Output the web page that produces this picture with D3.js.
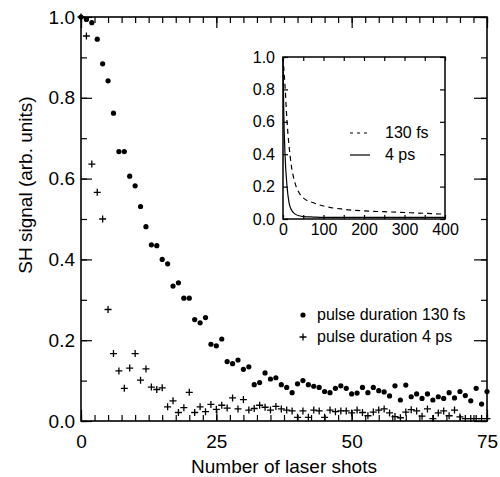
<!DOCTYPE html>
<html>
<head>
<meta charset="utf-8">
<script src="https://cdn.jsdelivr.net/npm/d3@7"></script>
<style>
  body { margin: 0; background: #fff; }
  text { font-family: 'Liberation Sans', Arial, Helvetica, sans-serif; fill: #000; }
  .axis .domain { display: none; }
  .axis line { stroke: #000; stroke-width: 1.2; }
</style>
</head>
<body>
<div id="chart"></div>
<script>
// shots 0..75
const shots = d3.range(0, 76)

// pulse duration 130 fs (dots)
const signal130fs = [
  1.0, 0.994, 0.986, 0.945, 0.884, 0.842, 0.762, 0.667, 0.667, 0.606,
  0.582, 0.531, 0.481, 0.436, 0.434, 0.4, 0.389, 0.334, 0.342, 0.304,
  0.304, 0.251, 0.243, 0.256, 0.19, 0.186, 0.203, 0.147, 0.142, 0.151,
  0.128, 0.134, 0.09, 0.095, 0.119, 0.104, 0.107, 0.09, 0.083, 0.07,
  0.092, 0.1, 0.09, 0.086, 0.083, 0.073, 0.07, 0.081, 0.087, 0.081,
  0.067, 0.069, 0.083, 0.07, 0.083, 0.075, 0.072, 0.062, 0.087, 0.052,
  0.089, 0.06, 0.067, 0.056, 0.067, 0.052, 0.06, 0.056, 0.07, 0.057,
  0.073, 0.063, 0.05, 0.081, 0.042, 0.073
]

// pulse duration 4 ps (crosses)
const signal4ps = [
  1.0, 0.953, 0.636, 0.566, 0.5, 0.276, 0.167, 0.124, 0.081, 0.131,
  0.167, 0.101, 0.129, 0.084, 0.078, 0.082, 0.035, 0.05, 0.021, 0.033,
  0.071, 0.021, 0.035, 0.023, 0.041, 0.029, 0.039, 0.032, 0.057, 0.03,
  0.053, 0.027, 0.031, 0.039, 0.034, 0.027, 0.036, 0.03, 0.027, 0.025,
  0.009, 0.025, 0.009, 0.027, 0.025, 0.009, 0.027, 0.023, 0.025, 0.025,
  0.02, 0.027, 0.021, 0.013, 0.022, 0.027, 0.03, 0.02, 0.011, 0.008,
  0.022, 0.028, 0.025, 0.012, 0.03, 0.006, 0.02, 0.025, 0.013, 0.027,
  0.01, 0.006, 0.006, 0.006, 0.006, 0.006
]

// inset curves
const insetShots = [0, 2, 5, 10, 15, 20, 30, 40, 50, 75, 100, 150, 200, 250, 300, 350, 400]
const inset130fs = [1.0, 0.93, 0.82, 0.6, 0.45, 0.34, 0.22, 0.16, 0.13, 0.1, 0.08, 0.06, 0.05, 0.045, 0.04, 0.035, 0.03]
const inset4ps = [1.0, 0.65, 0.4, 0.2, 0.1, 0.06, 0.03, 0.02, 0.015, 0.012, 0.01, 0.01, 0.01, 0.01, 0.01, 0.01, 0.01]

const legendLabels = ['pulse duration 130 fs', 'pulse duration 4 ps']
const insetLegendLabels = ['130 fs', '4 ps']

const margin = { top: 17, left: 81, right: 13, bottom: 56 }
const width = 500 - margin.left - margin.right
const height = 477 - margin.top - margin.bottom

const svg = d3
  .select('#chart')
  .append('svg')
  .attr('width', 500)
  .attr('height', 477)
  .append('g')
  .attr('transform', 'translate(' + margin.left + ',' + margin.top + ')')

const xPositionScale = d3.scaleLinear().domain([0, 75]).range([0, width])
const yPositionScale = d3.scaleLinear().domain([0, 1]).range([height, 0])

const crossPath = 'M-3.5,0H3.5M0,-3.5V3.5'

// frame
svg
  .append('rect')
  .attr('width', width)
  .attr('height', height)
  .attr('fill', 'none')
  .attr('stroke', '#000')
  .attr('stroke-width', 1.6)

// minor ticks
const minorX = d3.range(0, 75.1, 2.5)
const minorY = d3.range(0, 1.01, 0.1)
svg.append('g').attr('class', 'axis')
  .attr('transform', 'translate(0,' + height + ')')
  .call(d3.axisBottom(xPositionScale).tickValues(minorX).tickSize(-6).tickFormat(''))
svg.append('g').attr('class', 'axis')
  .call(d3.axisTop(xPositionScale).tickValues(minorX).tickSize(-6).tickFormat(''))
svg.append('g').attr('class', 'axis')
  .call(d3.axisLeft(yPositionScale).tickValues(minorY).tickSize(-6).tickFormat(''))
svg.append('g').attr('class', 'axis')
  .attr('transform', 'translate(' + width + ',0)')
  .call(d3.axisRight(yPositionScale).tickValues(minorY).tickSize(-6).tickFormat(''))

// major ticks + labels
svg.append('g').attr('class', 'axis')
  .attr('transform', 'translate(0,' + height + ')')
  .call(d3.axisBottom(xPositionScale).tickValues([0, 25, 50, 75]).tickSize(-11).tickPadding(14))
  .selectAll('text').style('font-size', '19px')
svg.append('g').attr('class', 'axis')
  .call(d3.axisTop(xPositionScale).tickValues([0, 25, 50, 75]).tickSize(-11).tickFormat(''))
svg.append('g').attr('class', 'axis')
  .call(d3.axisLeft(yPositionScale).tickValues([0, 0.2, 0.4, 0.6, 0.8, 1.0]).tickSize(-11).tickPadding(6).tickFormat(d3.format('.1f')))
  .selectAll('text').style('font-size', '19px')
svg.append('g').attr('class', 'axis')
  .attr('transform', 'translate(' + width + ',0)')
  .call(d3.axisRight(yPositionScale).tickValues([0, 0.2, 0.4, 0.6, 0.8, 1.0]).tickSize(-13).tickFormat(''))

// 4 ps crosses
svg
  .selectAll('.cross')
  .data(shots)
  .enter()
  .append('path')
  .attr('class', 'cross')
  .attr('d', crossPath)
  .attr('transform', d => 'translate(' + xPositionScale(d) + ',' + yPositionScale(signal4ps[d]) + ')')
  .attr('stroke', '#000')
  .attr('stroke-width', 1.3)

// 130 fs dots
svg
  .selectAll('.dot')
  .data(shots)
  .enter()
  .append('circle')
  .attr('class', 'dot')
  .attr('cx', d => xPositionScale(d))
  .attr('cy', d => yPositionScale(signal130fs[d]))
  .attr('r', 2.6)
  .attr('fill', '#000')

// axis titles
svg
  .append('text')
  .text('Number of laser shots')
  .attr('x', width / 2)
  .attr('y', height + 52)
  .attr('text-anchor', 'middle')
  .style('font-size', '19px')

svg
  .append('text')
  .text('SH signal (arb. units)')
  .attr('transform', 'translate(-49,168) rotate(-90)')
  .attr('text-anchor', 'middle')
  .style('font-size', '19px')

// legend
const legend = svg.append('g').attr('transform', 'translate(222,298)')
legend.append('circle').attr('cx', 0).attr('cy', 0).attr('r', 2.6).attr('fill', '#000')
legend.append('path').attr('d', crossPath).attr('transform', 'translate(0,22)')
  .attr('stroke', '#000').attr('stroke-width', 1.3)
legend
  .selectAll('.legend-label')
  .data(legendLabels)
  .enter()
  .append('text')
  .attr('class', 'legend-label')
  .text(d => d)
  .attr('x', 14)
  .attr('y', (d, i) => 5 + i * 22)
  .style('font-size', '16px')

// inset
const inset = svg.append('g').attr('transform', 'translate(202,40)')
const insetSize = 162
const xInset = d3.scaleLinear().domain([0, 400]).range([0, insetSize])
const yInset = d3.scaleLinear().domain([0, 1]).range([insetSize, 0])

inset
  .append('rect')
  .attr('width', insetSize)
  .attr('height', insetSize)
  .attr('fill', '#fff')
  .attr('stroke', '#000')
  .attr('stroke-width', 1.5)

inset.append('g').attr('class', 'axis')
  .attr('transform', 'translate(0,' + insetSize + ')')
  .call(d3.axisBottom(xInset).tickValues(d3.range(0, 401, 50)).tickSize(-4).tickPadding(5)
    .tickFormat(d => (d % 100 === 0 ? d : '')))
  .selectAll('text').style('font-size', '16px')
inset.append('g').attr('class', 'axis')
  .call(d3.axisTop(xInset).tickValues(d3.range(0, 401, 50)).tickSize(-4).tickFormat(''))
inset.append('g').attr('class', 'axis')
  .call(d3.axisLeft(yInset).tickValues([0, 0.2, 0.4, 0.6, 0.8, 1.0]).tickSize(-5).tickPadding(8).tickFormat(d3.format('.1f')))
  .selectAll('text').style('font-size', '16px')
inset.append('g').attr('class', 'axis')
  .attr('transform', 'translate(' + insetSize + ',0)')
  .call(d3.axisRight(yInset).tickValues([0, 0.2, 0.4, 0.6, 0.8, 1.0]).tickSize(-5).tickFormat(''))

const insetLine = d3
  .line()
  .x(d => xInset(d[0]))
  .y(d => yInset(d[1]))
  .curve(d3.curveMonotoneX)

inset
  .append('path')
  .datum(insetShots.map((s, i) => [s, inset130fs[i]]))
  .attr('d', insetLine)
  .attr('fill', 'none')
  .attr('stroke', '#000')
  .attr('stroke-width', 1.2)
  .attr('stroke-dasharray', '5,4')

inset
  .append('path')
  .datum(insetShots.map((s, i) => [s, inset4ps[i]]))
  .attr('d', insetLine)
  .attr('fill', 'none')
  .attr('stroke', '#000')
  .attr('stroke-width', 1.2)

// inset legend
const insetLegend = inset.append('g').attr('transform', 'translate(67,76)')
insetLegend.append('line').attr('x1', 0).attr('x2', 19).attr('y1', 0).attr('y2', 0)
  .attr('stroke', '#000').attr('stroke-width', 1.2).attr('stroke-dasharray', '3,4')
insetLegend.append('line').attr('x1', 0).attr('x2', 20).attr('y1', 22).attr('y2', 22)
  .attr('stroke', '#000').attr('stroke-width', 1.2)
insetLegend
  .selectAll('.inset-label')
  .data(insetLegendLabels)
  .enter()
  .append('text')
  .attr('class', 'inset-label')
  .text(d => d)
  .attr('x', 35)
  .attr('y', (d, i) => 5 + i * 22)
  .style('font-size', '16px')
</script>
</body>
</html>
